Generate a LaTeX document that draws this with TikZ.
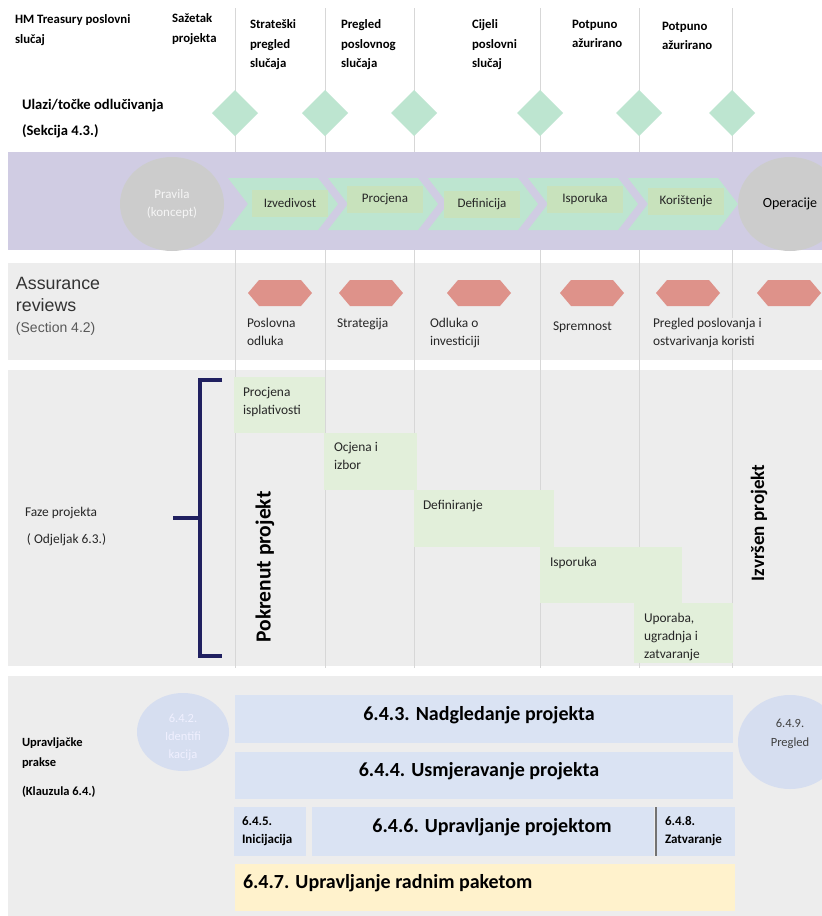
\documentclass[tikz,border=0pt]{standalone}
\usepackage{fontspec}
\setmainfont{Carlito}
\newfontfamily\arialfont{Liberation Sans}
\usetikzlibrary{shapes.geometric}

\definecolor{mint}{RGB}{189,229,208}
\definecolor{lavender}{RGB}{208,204,227}
\definecolor{circgray}{RGB}{204,204,204}
\definecolor{boxgreen}{RGB}{200,226,188}
\definecolor{bandgray}{RGB}{237,237,237}
\definecolor{hexred}{RGB}{222,146,138}
\definecolor{phasegreen}{RGB}{226,239,218}
\definecolor{paleblue}{RGB}{218,227,243}
\definecolor{circblue}{RGB}{214,222,240}
\definecolor{paleyellow}{RGB}{255,242,204}
\definecolor{navy}{RGB}{32,32,96}
\definecolor{gridgray}{RGB}{215,215,215}

\tikzset{
  hdr/.style={anchor=north west,align=left,font=\fontsize{12.8}{19.5}\selectfont\bfseries},
  gate/.style={diamond,fill=mint,minimum width=46,minimum height=46},
  stagebox/.style={fill=boxgreen,minimum width=76,minimum height=27,text=black!85,font=\fontsize{13}{15}\selectfont},
  review/.style={anchor=north west,align=left,text=black!85,font=\fontsize{13.4}{18}\selectfont},
  phasebox/.style={anchor=north west,fill=phasegreen},
  phasetxt/.style={anchor=north west,align=left,text=black!85,font=\fontsize{13.4}{18}\selectfont},
  practice/.style={anchor=north west,fill=paleblue},
  bigtxt/.style={font=\fontsize{20}{22}\selectfont\bfseries},
  smalltxt/.style={anchor=north west,align=left,font=\fontsize{13}{17.5}\selectfont\bfseries}
}

\begin{document}
\begin{tikzpicture}
    [x=1pt,y=-1pt,every node/.style={inner sep=0pt,outer sep=0pt}]
    \useasboundingbox[fill=white] (0,0) rectangle (822,916);

    % bands under the grid lines
    \fill[bandgray] (8,263) rectangle (822,360);
    \fill[bandgray] (8,370) rectangle (822,666);
    \foreach \gx in {235,325,414,540,639,732}
      \draw[gridgray,line width=1pt] (\gx,8) -- (\gx,668);
    \fill[lavender] (8,152) rectangle (822,250);
    \fill[bandgray] (8,676) rectangle (822,916);

    % header
    \node[hdr] (hm) at (15,15) {HM Treasury poslovni\\slučaj};
    \node[hdr] (saz) at (172,14) {Sažetak\\projekta};
    \node[hdr] (strat) at (250,20) {Strateški\\pregled\\slučaja};
    \node[hdr] (preg) at (341,20) {Pregled\\poslovnog\\slučaja};
    \node[hdr] (cij) at (472,20) {Cijeli\\poslovni\\slučaj};
    \node[hdr] (pot1) at (572,20) {Potpuno\\ažurirano};
    \node[hdr] (pot2) at (662,22) {Potpuno\\ažurirano};
    \node[anchor=north west,align=left,font=\fontsize{14.6}{26.5}\selectfont\bfseries] (ulazi) at (22,99)
      {Ulazi/točke odlučivanja\\(Sekcija 4.3.)};
    \node[gate] (g1) at (235,113) {};
    \node[gate] (g2) at (325,113) {};
    \node[gate] (g3) at (414,113) {};
    \node[gate] (g4) at (540,113) {};
    \node[gate] (g5) at (639,113) {};
    \node[gate] (g6) at (732,113) {};

    % life cycle
    \node[ellipse,fill=circgray,minimum width=104,minimum height=94,align=center,
          text=white!92!gray,font=\fontsize{13}{18}\selectfont] (pravila) at (172,204) {Pravila\\(koncept)};
    \node[ellipse,fill=circgray,minimum width=104,minimum height=94,
          font=\fontsize{14}{16}\selectfont] (oper) at (790,204) {Operacije};
    \foreach \cx in {228,328,428,528,628}
      \fill[mint] (\cx,178) -- ++(90,0) -- ++(20,26) -- ++(-20,26) -- ++(-90,0) -- ++(20,-26) -- cycle;
    \node[stagebox] (izv) at (290,203) {Izvedivost};
    \node[stagebox] (proc) at (385,199) {Procjena};
    \node[stagebox] (def) at (482,204) {Definicija};
    \node[stagebox] (isp) at (585,199) {Isporuka};
    \node[stagebox] (kor) at (686,201) {Korištenje};

    % assurance reviews
    \node[anchor=north west,align=left,text=black!80,font=\arialfont\fontsize{17.8}{22}\selectfont] (assur) at (16,277)
      {Assurance\\reviews};
    \node[anchor=north west,text=black!65,font=\arialfont\fontsize{14}{16}\selectfont] (sect) at (16,322) {(Section 4.2)};
    \foreach \hx in {280,371,479,592,688,789}
      \fill[hexred] (\hx-32,293) -- (\hx-21,280) -- (\hx+21,280) -- (\hx+32,293) -- (\hx+21,306) -- (\hx-21,306) -- cycle;
    \node[review] (r1) at (247,318) {Poslovna\\odluka};
    \node[review] (r2) at (337,318) {Strategija};
    \node[review] (r3) at (430,318) {Odluka o\\investiciji};
    \node[review] (r4) at (553,322) {Spremnost};
    \node[review,fill=bandgray] (r5) at (653,318) {Pregled poslovanja i\\ostvarivanja koristi};

    % project phases
    \node[anchor=north west,text=black!85,font=\fontsize{13.4}{15}\selectfont] (faze) at (25,507) {Faze projekta};
    \node[anchor=north west,text=black!85,font=\fontsize{13.4}{15}\selectfont] (odj) at (27,534) {( Odjeljak 6.3.)};
    \draw[navy,line width=3.5pt] (222,380) -- (200,380) -- (200,656) -- (222,656);
    \draw[navy,line width=3.5pt] (173,518) -- (200,518);
    \node[phasebox,minimum width=91,minimum height=56] (p1) at (234,377) {};
    \node[phasebox,minimum width=93,minimum height=57] (p2) at (324,433) {};
    \node[phasebox,minimum width=140,minimum height=57] (p3) at (414,490) {};
    \node[phasebox,minimum width=142,minimum height=56] (p4) at (540,547) {};
    \node[phasebox,minimum width=99,minimum height=60] (p5) at (634,603) {};
    \node[phasetxt] at ([shift={(9,10)}]p1.north west) {Procjena\\isplativosti};
    \node[phasetxt] at ([shift={(10,9)}]p2.north west) {Ocjena i\\izbor};
    \node[phasetxt] at ([shift={(9,10)}]p3.north west) {Definiranje};
    \node[phasetxt] at ([shift={(10,10)}]p4.north west) {Isporuka};
    \node[phasetxt] at ([shift={(10,10)}]p5.north west) {Uporaba,\\ugradnja i\\zatvaranje};
    \node[rotate=90,font=\fontsize{21.5}{24}\selectfont\bfseries] (pokr) at (265,567) {Pokrenut projekt};
    \node[rotate=90,font=\fontsize{19}{22}\selectfont\bfseries] (izvr) at (759,523) {Izvršen projekt};

    % management practices
    \node[anchor=north west,align=left,font=\fontsize{12.5}{20}\selectfont\bfseries] (uprav) at (22,738)
      {Upravljačke\\prakse};
    \node[anchor=north west,font=\fontsize{12.5}{14}\selectfont\bfseries] (klauz) at (22,786) {(Klauzula 6.4.)};
    \node[ellipse,fill=circblue,minimum width=92,minimum height=78] (c642) at (183,732) {};
    \node[align=center,text=white!94!blue,font=\fontsize{12.5}{18}\selectfont] at ([yshift=-5]c642.center)
      {6.4.2.\\Identifi\\kacija};
    \node[ellipse,fill=circblue,minimum width=104,minimum height=94] (c649) at (790,742) {};
    \node[align=center,text=black!75,font=\fontsize{12.5}{19}\selectfont] at ([yshift=8]c649.center)
      {6.4.9.\\Pregled};
    \node[practice,minimum width=498,minimum height=48] (b643) at (235,695) {};
    \node[bigtxt] at ([xshift=-5,yshift=4]b643.center) {6.4.3. Nadgledanje projekta};
    \node[practice,minimum width=498,minimum height=47] (b644) at (235,752) {};
    \node[bigtxt] at ([xshift=-5,yshift=4]b644.center) {6.4.4. Usmjeravanje projekta};
    \node[practice,minimum width=72,minimum height=49] (b645) at (234,807) {};
    \node[smalltxt] at ([shift={(8,10)}]b645.north west) {6.4.5.\\Inicijacija};
    \node[practice,minimum width=342,minimum height=49] (b646) at (312,807) {};
    \node[bigtxt] at ([xshift=9,yshift=4]b646.center) {6.4.6. Upravljanje projektom};
    \node[practice,minimum width=79,minimum height=49] (b648) at (656,807) {};
    \draw[black!55,line width=1.5pt] (b648.north west) -- (b648.south west);
    \node[smalltxt] at ([shift={(9,10)}]b648.north west) {6.4.8.\\Zatvaranje};
    \node[anchor=north west,fill=paleyellow,minimum width=500,minimum height=47] (b647) at (235,864) {};
    \node[bigtxt,anchor=west] at ([xshift=8,yshift=4]b647.west) {6.4.7. Upravljanje radnim paketom};

  \end{tikzpicture}
\end{document}
